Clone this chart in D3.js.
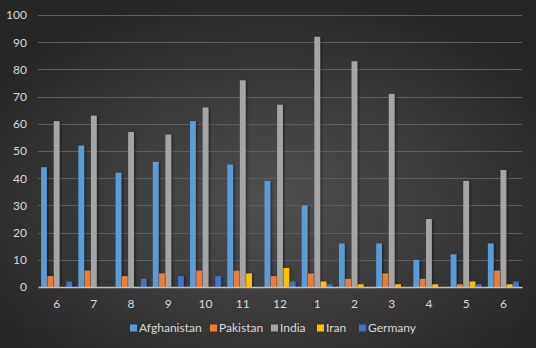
<!DOCTYPE html>
<html>
<head>
<meta charset="utf-8">
<script src="https://cdn.jsdelivr.net/npm/d3@7"></script>
<style>
  body { margin: 0; background: #262626; }
  text { font-family: Lato, "Open Sans", sans-serif; }
</style>
</head>
<body>
<script>
let months = ['6', '7', '8', '9', '10', '11', '12', '1', '2', '3', '4', '5', '6'];
let seriesNames = ['Afghanistan', 'Pakistan', 'India', 'Iran', 'Germany'];
let colors = ['#5b9bd5', '#ed7d31', '#a5a5a5', '#ffc000', '#4472c4'];
let afghanistan = [44, 52, 42, 46, 61, 45, 39, 30, 16, 16, 10, 12, 16];
let pakistan = [4, 6, 4, 5, 6, 6, 4, 5, 3, 5, 3, 1, 6];
let india = [61, 63, 57, 56, 66, 76, 67, 92, 83, 71, 25, 39, 43];
let iran = [0, 0, 0, 0, 0, 5, 7, 2, 1, 1, 1, 2, 1];
let germany = [2, 0, 3, 4, 4, 0, 2, 1, 0, 0, 0, 1, 2];
let yTicks = [0, 10, 20, 30, 40, 50, 60, 70, 80, 90, 100];

let allSeries = [afghanistan, pakistan, india, iran, germany];
let width = 536, height = 348;
let margin = { top: 15, right: 14, bottom: 61, left: 38 };
let plotW = width - margin.left - margin.right;
let plotH = height - margin.top - margin.bottom;

let svg = d3.select('body').append('svg')
    .attr('width', width)
    .attr('height', height);

let defs = svg.append('defs');
let bg = defs.append('radialGradient')
    .attr('id', 'bg')
    .attr('cx', '50%').attr('cy', '58%').attr('r', '62%');
bg.append('stop').attr('offset', '0%').attr('stop-color', '#505050');
bg.append('stop').attr('offset', '100%').attr('stop-color', '#262626');

let shadow = defs.append('filter').attr('id', 'shadow')
    .attr('x', '-50%').attr('y', '-10%').attr('width', '200%').attr('height', '120%');
shadow.append('feDropShadow')
    .attr('dx', 1.5).attr('dy', 0.5).attr('stdDeviation', 1)
    .attr('flood-color', '#000').attr('flood-opacity', 0.45);

svg.append('rect')
    .attr('width', width).attr('height', height)
    .attr('fill', 'url(#bg)');

let g = svg.append('g')
    .attr('transform', 'translate(' + margin.left + ',' + margin.top + ')');

// scales
let x0 = d3.scaleBand().domain(d3.range(months.length)).range([0, plotW]);
let x1 = d3.scaleBand().domain(d3.range(seriesNames.length))
    .range([x0.bandwidth() / 12, x0.bandwidth() * 11 / 12])
    .paddingInner(0.08);
let y = d3.scaleLinear().domain([0, 100]).range([plotH, 0]);

// gridlines
g.append('g')
  .selectAll('line')
  .data(yTicks.slice(1))
  .join('line')
    .attr('x1', 0).attr('x2', plotW)
    .attr('y1', d => Math.round(y(d)) + 0.5)
    .attr('y2', d => Math.round(y(d)) + 0.5)
    .attr('stroke', '#5e5e5e')
    .attr('stroke-width', 1);

// y axis labels
let yAxis = d3.axisLeft(y).tickValues(yTicks).tickSize(0).tickPadding(11);
g.append('g')
    .call(yAxis)
    .call(s => s.select('.domain').remove())
    .selectAll('text')
    .attr('fill', '#d9d9d9')
    .style('font-size', '12px');

// bars
let groups = g.append('g')
  .selectAll('g')
  .data(months.map((m, i) => i))
  .join('g')
    .attr('transform', i => 'translate(' + x0(i) + ',0)');

groups.selectAll('rect')
  .data(i => allSeries.map((s, k) => ({ k: k, v: s[i] })).filter(d => d.v > 0))
  .join('rect')
    .attr('x', d => x1(d.k))
    .attr('width', x1.bandwidth())
    .attr('y', d => y(d.v))
    .attr('height', d => plotH - y(d.v))
    .attr('fill', d => colors[d.k])
    .attr('filter', 'url(#shadow)');

// x axis
let xAxis = d3.axisBottom(x0).tickFormat(i => months[i]).tickSize(0).tickPadding(12);
let xg = g.append('g')
    .attr('transform', 'translate(0,' + plotH + ')')
    .call(xAxis);
xg.select('.domain').attr('stroke', '#bfbfbf').attr('stroke-width', 1.3);
xg.selectAll('text')
    .attr('fill', '#d9d9d9')
    .style('font-size', '12px');

// legend
let legendX = [130, 210, 271, 317, 359];
let legend = svg.append('g')
  .selectAll('g')
  .data(seriesNames)
  .join('g')
    .attr('transform', (d, i) => 'translate(' + legendX[i] + ',328)');
legend.append('rect')
    .attr('x', 0).attr('y', -3.5)
    .attr('width', 7).attr('height', 7)
    .attr('fill', (d, i) => colors[i]);
legend.append('text')
    .attr('x', 9).attr('y', 0)
    .attr('dy', '0.35em')
    .attr('fill', '#d9d9d9')
    .style('font-size', '12px')
    .text(d => d);
</script>
</body>
</html>
